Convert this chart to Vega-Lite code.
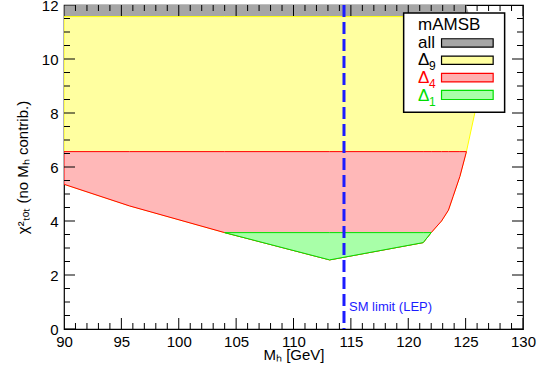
{
  "$schema": "https://vega.github.io/schema/vega-lite/v6.json",
  "width": 459,
  "height": 324,
  "autosize": {"type": "none"},
  "padding": {"left": 64, "top": 5, "right": 17, "bottom": 36},
  "background": "white",
  "config": {
    "font": "Liberation Sans",
    "view": {"stroke": "#000", "strokeWidth": 1.2},
    "axis": {"domain": false, "grid": false, "ticks": false, "labelColor": "#000", "titleColor": "#000", "labelFontSize": 15, "titleFontSize": 15, "titleFontWeight": "normal", "labelOverlap": false, "labelFlush": false, "labelFont": "Liberation Sans", "titleFont": "Liberation Sans"}
  },
  "datasets": {
    "regions": [
      {"region": "all", "mh": 90, "lo": 11.57, "hi": 12},
      {"region": "all", "mh": 125.05, "lo": 11.57, "hi": 12},
      {"region": "all", "mh": 125.35, "lo": 11.57, "hi": 11.57},
      {"region": "d9", "mh": 90, "lo": 5.36, "hi": 11.57},
      {"region": "d9", "mh": 95.7, "lo": 4.56, "hi": 11.57},
      {"region": "d9", "mh": 104.0, "lo": 3.57, "hi": 11.57},
      {"region": "d9", "mh": 113.15, "lo": 2.56, "hi": 11.57},
      {"region": "d9", "mh": 121.3, "lo": 3.2, "hi": 11.57},
      {"region": "d9", "mh": 122.0, "lo": 3.57, "hi": 11.57},
      {"region": "d9", "mh": 122.9, "lo": 4.0, "hi": 11.57},
      {"region": "d9", "mh": 123.5, "lo": 4.4, "hi": 11.57},
      {"region": "d9", "mh": 123.9, "lo": 4.9, "hi": 11.57},
      {"region": "d9", "mh": 124.5, "lo": 5.65, "hi": 11.57},
      {"region": "d9", "mh": 125.07, "lo": 6.57, "hi": 11.57},
      {"region": "d9", "mh": 125.8, "lo": 8.0, "hi": 11.57},
      {"region": "d9", "mh": 126.3, "lo": 9.5, "hi": 11.57},
      {"region": "d9", "mh": 126.5, "lo": 11.57, "hi": 11.57},
      {"region": "d4", "mh": 90, "lo": 5.36, "hi": 6.57},
      {"region": "d4", "mh": 95.7, "lo": 4.56, "hi": 6.57},
      {"region": "d4", "mh": 104.0, "lo": 3.57, "hi": 6.57},
      {"region": "d4", "mh": 113.15, "lo": 2.56, "hi": 6.57},
      {"region": "d4", "mh": 121.3, "lo": 3.2, "hi": 6.57},
      {"region": "d4", "mh": 122.0, "lo": 3.57, "hi": 6.57},
      {"region": "d4", "mh": 122.9, "lo": 4.0, "hi": 6.57},
      {"region": "d4", "mh": 123.5, "lo": 4.4, "hi": 6.57},
      {"region": "d4", "mh": 123.9, "lo": 4.9, "hi": 6.57},
      {"region": "d4", "mh": 124.5, "lo": 5.65, "hi": 6.57},
      {"region": "d4", "mh": 125.07, "lo": 6.57, "hi": 6.57},
      {"region": "d1", "mh": 104.0, "lo": 3.57, "hi": 3.57},
      {"region": "d1", "mh": 113.15, "lo": 2.56, "hi": 3.57},
      {"region": "d1", "mh": 121.3, "lo": 3.2, "hi": 3.57},
      {"region": "d1", "mh": 122.0, "lo": 3.57, "hi": 3.57}
    ],
    "ticks": [
      {"axis": "x", "v": 90, "kind": "major"}, {"axis": "x", "v": 91, "kind": "minor"}, {"axis": "x", "v": 92, "kind": "minor"}, {"axis": "x", "v": 93, "kind": "minor"}, {"axis": "x", "v": 94, "kind": "minor"},
      {"axis": "x", "v": 95, "kind": "major"}, {"axis": "x", "v": 96, "kind": "minor"}, {"axis": "x", "v": 97, "kind": "minor"}, {"axis": "x", "v": 98, "kind": "minor"}, {"axis": "x", "v": 99, "kind": "minor"},
      {"axis": "x", "v": 100, "kind": "major"}, {"axis": "x", "v": 101, "kind": "minor"}, {"axis": "x", "v": 102, "kind": "minor"}, {"axis": "x", "v": 103, "kind": "minor"}, {"axis": "x", "v": 104, "kind": "minor"},
      {"axis": "x", "v": 105, "kind": "major"}, {"axis": "x", "v": 106, "kind": "minor"}, {"axis": "x", "v": 107, "kind": "minor"}, {"axis": "x", "v": 108, "kind": "minor"}, {"axis": "x", "v": 109, "kind": "minor"},
      {"axis": "x", "v": 110, "kind": "major"}, {"axis": "x", "v": 111, "kind": "minor"}, {"axis": "x", "v": 112, "kind": "minor"}, {"axis": "x", "v": 113, "kind": "minor"}, {"axis": "x", "v": 114, "kind": "minor"},
      {"axis": "x", "v": 115, "kind": "major"}, {"axis": "x", "v": 116, "kind": "minor"}, {"axis": "x", "v": 117, "kind": "minor"}, {"axis": "x", "v": 118, "kind": "minor"}, {"axis": "x", "v": 119, "kind": "minor"},
      {"axis": "x", "v": 120, "kind": "major"}, {"axis": "x", "v": 121, "kind": "minor"}, {"axis": "x", "v": 122, "kind": "minor"}, {"axis": "x", "v": 123, "kind": "minor"}, {"axis": "x", "v": 124, "kind": "minor"},
      {"axis": "x", "v": 125, "kind": "major"}, {"axis": "x", "v": 126, "kind": "minor"}, {"axis": "x", "v": 127, "kind": "minor"}, {"axis": "x", "v": 128, "kind": "minor"}, {"axis": "x", "v": 129, "kind": "minor"},
      {"axis": "x", "v": 130, "kind": "major"},
      {"axis": "y", "v": 0, "kind": "major"}, {"axis": "y", "v": 0.5, "kind": "minor"}, {"axis": "y", "v": 1, "kind": "minor"}, {"axis": "y", "v": 1.5, "kind": "minor"},
      {"axis": "y", "v": 2, "kind": "major"}, {"axis": "y", "v": 2.5, "kind": "minor"}, {"axis": "y", "v": 3, "kind": "minor"}, {"axis": "y", "v": 3.5, "kind": "minor"},
      {"axis": "y", "v": 4, "kind": "major"}, {"axis": "y", "v": 4.5, "kind": "minor"}, {"axis": "y", "v": 5, "kind": "minor"}, {"axis": "y", "v": 5.5, "kind": "minor"},
      {"axis": "y", "v": 6, "kind": "major"}, {"axis": "y", "v": 6.5, "kind": "minor"}, {"axis": "y", "v": 7, "kind": "minor"}, {"axis": "y", "v": 7.5, "kind": "minor"},
      {"axis": "y", "v": 8, "kind": "major"}, {"axis": "y", "v": 8.5, "kind": "minor"}, {"axis": "y", "v": 9, "kind": "minor"}, {"axis": "y", "v": 9.5, "kind": "minor"},
      {"axis": "y", "v": 10, "kind": "major"}, {"axis": "y", "v": 10.5, "kind": "minor"}, {"axis": "y", "v": 11, "kind": "minor"}, {"axis": "y", "v": 11.5, "kind": "minor"},
      {"axis": "y", "v": 12, "kind": "major"}
    ],
    "lep": [{"mh": 114.4, "label": "SM limit (LEP)"}],
    "legend": [
      {"entry": "title", "label": "mAMSB", "sub": ""},
      {"entry": "all", "label": "all", "sub": ""},
      {"entry": "d9", "label": "Δ", "sub": "9"},
      {"entry": "d4", "label": "Δ", "sub": "4"},
      {"entry": "d1", "label": "Δ", "sub": "1"}
    ]
  },
  "layer": [
    {
      "data": {"name": "regions"},
      "transform": [{"filter": "datum.region === 'all'"}],
      "mark": {"type": "area", "fill": "#a6a6a6", "strokeWidth": 0, "clip": true},
      "encoding": {
        "x": {"field": "mh", "type": "quantitative", "scale": {"domain": [90, 130], "nice": false, "zero": false},
          "axis": {"orient": "bottom", "values": [90,95,100,105,110,115,120,125,130],
            "labelPadding": 5, "title": "Mₕ [GeV]", "titlePadding": -2}},
        "y": {"field": "lo", "type": "quantitative", "stack": null, "scale": {"domain": [0, 12], "nice": false, "zero": false},
          "axis": {"orient": "left", "values": [0,2,4,6,8,10,12],
            "labelPadding": 6, "title": "χ²ₜₒₜ (no Mₕ contrib.)", "titlePadding": 11}},
        "y2": {"field": "hi"}
      }
    },
    {
      "data": {"name": "regions"},
      "transform": [{"filter": "datum.region === 'd9'"}],
      "mark": {"type": "area", "fill": "#ffffa0", "stroke": "#ffff00", "strokeWidth": 1, "clip": true},
      "encoding": {
        "x": {"field": "mh", "type": "quantitative", "axis": null},
        "y": {"field": "lo", "type": "quantitative", "stack": null, "axis": null},
        "y2": {"field": "hi"}
      }
    },
    {
      "data": {"name": "regions"},
      "transform": [{"filter": "datum.region === 'd4'"}],
      "mark": {"type": "area", "fill": "#ffb8b8", "stroke": "#ff0000", "strokeWidth": 1, "clip": true},
      "encoding": {
        "x": {"field": "mh", "type": "quantitative", "axis": null},
        "y": {"field": "lo", "type": "quantitative", "stack": null, "axis": null},
        "y2": {"field": "hi"}
      }
    },
    {
      "data": {"name": "regions"},
      "transform": [{"filter": "datum.region === 'd1'"}],
      "mark": {"type": "area", "fill": "#a8ffa8", "stroke": "#00e000", "strokeWidth": 1, "clip": true},
      "encoding": {
        "x": {"field": "mh", "type": "quantitative", "axis": null},
        "y": {"field": "lo", "type": "quantitative", "stack": null, "axis": null},
        "y2": {"field": "hi"}
      }
    },
    {
      "data": {"name": "ticks"},
      "transform": [{"filter": "datum.axis === 'x'"}],
      "mark": {"type": "tick", "orient": "vertical", "thickness": 1, "color": "#000", "opacity": 1, "clip": true},
      "encoding": {
        "x": {"field": "v", "type": "quantitative", "axis": null},
        "y": {"datum": 0, "type": "quantitative", "axis": null},
        "size": {"field": "kind", "type": "nominal", "scale": {"domain": ["major", "minor"], "range": [22, 12]}, "legend": null}
      }
    },
    {
      "data": {"name": "ticks"},
      "transform": [{"filter": "datum.axis === 'x'"}],
      "mark": {"type": "tick", "orient": "vertical", "thickness": 1, "color": "#000", "opacity": 1, "clip": true},
      "encoding": {
        "x": {"field": "v", "type": "quantitative", "axis": null},
        "y": {"datum": 12, "type": "quantitative", "axis": null},
        "size": {"field": "kind", "type": "nominal", "legend": null}
      }
    },
    {
      "data": {"name": "ticks"},
      "transform": [{"filter": "datum.axis === 'y'"}],
      "mark": {"type": "tick", "orient": "horizontal", "thickness": 1, "color": "#000", "opacity": 1, "clip": true},
      "encoding": {
        "y": {"field": "v", "type": "quantitative", "axis": null},
        "x": {"datum": 90, "type": "quantitative", "axis": null},
        "size": {"field": "kind", "type": "nominal", "legend": null}
      }
    },
    {
      "data": {"name": "ticks"},
      "transform": [{"filter": "datum.axis === 'y'"}],
      "mark": {"type": "tick", "orient": "horizontal", "thickness": 1, "color": "#000", "opacity": 1, "clip": true},
      "encoding": {
        "y": {"field": "v", "type": "quantitative", "axis": null},
        "x": {"datum": 130, "type": "quantitative", "axis": null},
        "size": {"field": "kind", "type": "nominal", "legend": null}
      }
    },
    {
      "data": {"name": "lep"},
      "mark": {"type": "rule", "color": "#1c1cff", "strokeWidth": 3, "strokeDash": [12, 5]},
      "encoding": {
        "x": {"field": "mh", "type": "quantitative", "axis": null}
      }
    },
    {
      "data": {"name": "lep"},
      "mark": {"type": "text", "color": "#1c1cff", "fontSize": 13, "align": "left", "baseline": "middle", "dx": 5, "font": "Liberation Sans"},
      "encoding": {
        "x": {"field": "mh", "type": "quantitative", "axis": null},
        "y": {"datum": 0.83, "type": "quantitative", "axis": null},
        "text": {"field": "label"}
      }
    },
    {
      "data": {"name": "lep"},
      "mark": {"type": "rect", "fill": "white", "stroke": "#000", "strokeWidth": 1.5},
      "encoding": {
        "x": {"datum": 119.6, "type": "quantitative", "axis": null},
        "x2": {"datum": 128.4},
        "y": {"datum": 8.03, "type": "quantitative", "axis": null},
        "y2": {"datum": 11.7}
      }
    },
    {
      "data": {"name": "legend"},
      "transform": [{"filter": "datum.entry === 'all'"}],
      "mark": {"type": "rect", "fill": "#a6a6a6", "stroke": "#000", "strokeWidth": 1.2},
      "encoding": {
        "x": {"datum": 122.9, "type": "quantitative", "axis": null},
        "x2": {"datum": 127.4},
        "y": {"datum": 10.44, "type": "quantitative", "axis": null},
        "y2": {"datum": 10.75}
      }
    },
    {
      "data": {"name": "legend"},
      "transform": [{"filter": "datum.entry === 'd9'"}],
      "mark": {"type": "rect", "fill": "#ffffa0", "stroke": "#000", "strokeWidth": 1.2},
      "encoding": {
        "x": {"datum": 122.9, "type": "quantitative", "axis": null},
        "x2": {"datum": 127.4},
        "y": {"datum": 9.8, "type": "quantitative", "axis": null},
        "y2": {"datum": 10.11}
      }
    },
    {
      "data": {"name": "legend"},
      "transform": [{"filter": "datum.entry === 'd4'"}],
      "mark": {"type": "rect", "fill": "#ffb0b0", "stroke": "#ff0000", "strokeWidth": 1.2},
      "encoding": {
        "x": {"datum": 122.9, "type": "quantitative", "axis": null},
        "x2": {"datum": 127.4},
        "y": {"datum": 9.15, "type": "quantitative", "axis": null},
        "y2": {"datum": 9.47}
      }
    },
    {
      "data": {"name": "legend"},
      "transform": [{"filter": "datum.entry === 'd1'"}],
      "mark": {"type": "rect", "fill": "#a8ffa8", "stroke": "#00e000", "strokeWidth": 1.2},
      "encoding": {
        "x": {"datum": 122.9, "type": "quantitative", "axis": null},
        "x2": {"datum": 127.4},
        "y": {"datum": 8.5, "type": "quantitative", "axis": null},
        "y2": {"datum": 8.84}
      }
    },
    {
      "data": {"name": "legend"},
      "transform": [{"filter": "datum.entry === 'title'"}],
      "mark": {"type": "text", "color": "#000", "fontSize": 17, "align": "left", "baseline": "middle", "font": "Liberation Sans"},
      "encoding": {
        "x": {"datum": 120.85, "type": "quantitative", "axis": null},
        "y": {"datum": 11.26, "type": "quantitative", "axis": null},
        "text": {"field": "label"}
      }
    },
    {
      "data": {"name": "legend"},
      "transform": [{"filter": "datum.entry === 'all'"}],
      "mark": {"type": "text", "color": "#000", "fontSize": 17, "align": "left", "baseline": "middle", "font": "Liberation Sans"},
      "encoding": {
        "x": {"datum": 120.85, "type": "quantitative", "axis": null},
        "y": {"datum": 10.6, "type": "quantitative", "axis": null},
        "text": {"field": "label"}
      }
    },
    {
      "data": {"name": "legend"},
      "transform": [{"filter": "datum.entry === 'd9'"}],
      "mark": {"type": "text", "color": "#000", "fontSize": 17, "align": "left", "baseline": "middle", "font": "Liberation Sans"},
      "encoding": {
        "x": {"datum": 120.85, "type": "quantitative", "axis": null},
        "y": {"datum": 9.96, "type": "quantitative", "axis": null},
        "text": {"field": "label"}
      }
    },
    {
      "data": {"name": "legend"},
      "transform": [{"filter": "datum.entry === 'd9'"}],
      "mark": {"type": "text", "color": "#000", "fontSize": 12, "align": "left", "baseline": "middle", "dx": 11, "dy": 6, "font": "Liberation Sans"},
      "encoding": {
        "x": {"datum": 120.85, "type": "quantitative", "axis": null},
        "y": {"datum": 9.96, "type": "quantitative", "axis": null},
        "text": {"field": "sub"}
      }
    },
    {
      "data": {"name": "legend"},
      "transform": [{"filter": "datum.entry === 'd4'"}],
      "mark": {"type": "text", "color": "#ff0000", "fontSize": 17, "align": "left", "baseline": "middle", "font": "Liberation Sans"},
      "encoding": {
        "x": {"datum": 120.85, "type": "quantitative", "axis": null},
        "y": {"datum": 9.31, "type": "quantitative", "axis": null},
        "text": {"field": "label"}
      }
    },
    {
      "data": {"name": "legend"},
      "transform": [{"filter": "datum.entry === 'd4'"}],
      "mark": {"type": "text", "color": "#ff0000", "fontSize": 12, "align": "left", "baseline": "middle", "dx": 11, "dy": 6, "font": "Liberation Sans"},
      "encoding": {
        "x": {"datum": 120.85, "type": "quantitative", "axis": null},
        "y": {"datum": 9.31, "type": "quantitative", "axis": null},
        "text": {"field": "sub"}
      }
    },
    {
      "data": {"name": "legend"},
      "transform": [{"filter": "datum.entry === 'd1'"}],
      "mark": {"type": "text", "color": "#00dd00", "fontSize": 17, "align": "left", "baseline": "middle", "font": "Liberation Sans"},
      "encoding": {
        "x": {"datum": 120.85, "type": "quantitative", "axis": null},
        "y": {"datum": 8.64, "type": "quantitative", "axis": null},
        "text": {"field": "label"}
      }
    },
    {
      "data": {"name": "legend"},
      "transform": [{"filter": "datum.entry === 'd1'"}],
      "mark": {"type": "text", "color": "#00dd00", "fontSize": 12, "align": "left", "baseline": "middle", "dx": 11, "dy": 6, "font": "Liberation Sans"},
      "encoding": {
        "x": {"datum": 120.85, "type": "quantitative", "axis": null},
        "y": {"datum": 8.64, "type": "quantitative", "axis": null},
        "text": {"field": "sub"}
      }
    }
  ],
  "resolve": {"axis": {"x": "independent", "y": "independent"}}
}
